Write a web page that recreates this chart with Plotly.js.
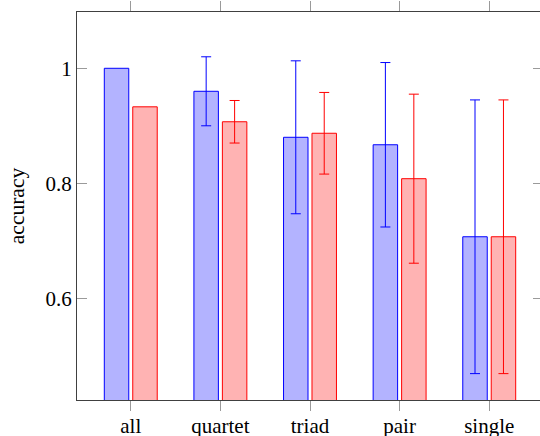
<!DOCTYPE html>
<html>
<head>
<meta charset="utf-8">
<script src="https://cdn.plot.ly/plotly-3.0.1.min.js"></script>
<style>
html,body{margin:0;padding:0;overflow:hidden;background:#fff;width:540px;height:436px;}
#chart{width:560px;height:436px;}
</style>
</head>
<body>
<div id="chart"></div>
<script>
const categories = ["all", "quartet", "triad", "pair", "single"];
const blueValues = [1.0, 0.960, 0.880, 0.867, 0.707];
const blueErrors = [null, 0.060, 0.133, 0.143, 0.238];
const redValues = [0.933, 0.907, 0.887, 0.808, 0.707];
const redErrors = [null, 0.037, 0.071, 0.147, 0.238];
const yTickValues = [0.6, 0.8, 1];
const yTickLabels = ["0.6", "0.8", "1"];

const idx = categories.map((c, i) => i);
const toErr = arr => arr.map(v => (v === null ? NaN : v));

const font = {family: "Liberation Serif, Times New Roman, serif", size: 21, color: "#000"};
const titleFont = {family: "Liberation Serif, Times New Roman, serif", size: 21.5, color: "#000"};

const traces = [
  {
    type: "bar", x: idx, y: blueValues, name: "blue",
    marker: {color: "rgb(179,179,255)", line: {color: "rgb(0,0,255)", width: 1}},
    error_y: {type: "data", array: toErr(blueErrors), visible: true, color: "rgb(0,0,255)", thickness: 1, width: 5}
  },
  {
    type: "bar", x: idx, y: redValues, name: "red",
    marker: {color: "rgb(255,179,179)", line: {color: "rgb(255,0,0)", width: 1}},
    error_y: {type: "data", array: toErr(redErrors), visible: true, color: "rgb(255,0,0)", thickness: 1, width: 5}
  }
];

const layout = {
  width: 560, height: 436,
  margin: {l: 77, r: 17, t: 12, b: 36, pad: 0},
  paper_bgcolor: "#fff", plot_bgcolor: "#fff",
  showlegend: false,
  barmode: "group", bargap: 0.365, bargroupgap: 0.14,
  font: font,
  xaxis: {
    range: [-0.6, 4.6], tickvals: idx, ticktext: categories,
    ticks: "outside", ticklen: 10, tickwidth: 1, tickcolor: "#9a9a9a",
    showline: true, linecolor: "#404040", linewidth: 1, mirror: "ticks",
    showgrid: false, zeroline: false, tickfont: font, ticklabelstandoff: -3
  },
  yaxis: {
    range: [0.4231, 1.0979], tickvals: yTickValues, ticktext: yTickLabels,
    ticks: "inside", ticklen: 10, tickwidth: 1, tickcolor: "#9a9a9a",
    showline: true, linecolor: "#404040", linewidth: 1, mirror: "ticks",
    showgrid: false, zeroline: false, tickfont: font,
    title: {text: "accuracy", font: titleFont, standoff: 15}
  }
};

Plotly.newPlot("chart", traces, layout, {staticPlot: true, displayModeBar: false});
</script>
</body>
</html>
